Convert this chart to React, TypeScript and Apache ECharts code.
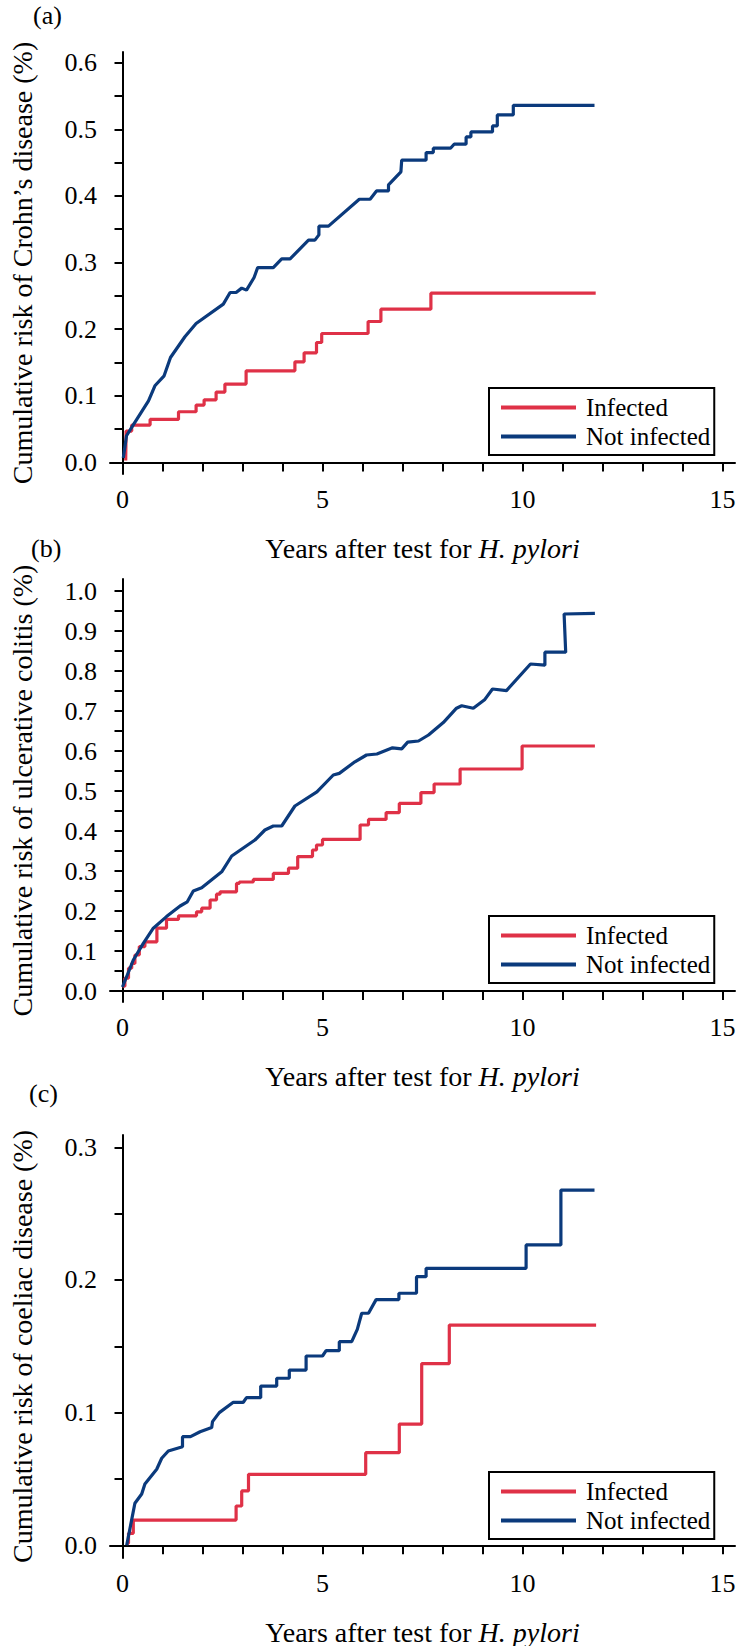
import React, { useEffect, useRef } from "react";
import * as echarts from "echarts";

// ---------- text ----------
const panelLabels = ["(a)", "(b)", "(c)"];
const yTitles = [
  "Cumulative risk of Crohn\u2019s disease (%)",
  "Cumulative risk of ulcerative colitis (%)",
  "Cumulative risk of coeliac disease (%)",
];
const xTitle = "Years after test for {i|H. pylori}";
const seriesNames = ["Infected", "Not infected"];

// ---------- ticks ----------
const xTicks = [0, 1, 2, 3, 4, 5, 6, 7, 8, 9, 10, 11, 12, 13, 14, 15];
const xTickLabels = [0, 5, 10, 15];
const yTicksA = [0, 0.05, 0.1, 0.15, 0.2, 0.25, 0.3, 0.35, 0.4, 0.45, 0.5, 0.55, 0.6];
const yLabelsA = [0, 0.1, 0.2, 0.3, 0.4, 0.5, 0.6];
const yTicksB = [0, 0.05, 0.1, 0.15, 0.2, 0.25, 0.3, 0.35, 0.4, 0.45, 0.5, 0.55, 0.6, 0.65, 0.7, 0.75, 0.8, 0.85, 0.9, 0.95, 1.0];
const yLabelsB = [0, 0.1, 0.2, 0.3, 0.4, 0.5, 0.6, 0.7, 0.8, 0.9, 1.0];
const yTicksC = [0, 0.05, 0.1, 0.15, 0.2, 0.25, 0.3];
const yLabelsC = [0, 0.1, 0.2, 0.3];

// ---------- data: [years, cumulative risk %] ----------
// (a) Crohn's disease
const crohnInfected = [
  [0.08, 0.003], [0.09, 0.047], [0.23, 0.056], [0.69, 0.0645], [1.40, 0.076], [1.84, 0.086],
  [2.04, 0.094], [2.34, 0.1056], [2.56, 0.1176], [3.09, 0.1375], [4.31, 0.151], [4.54, 0.1645],
  [4.85, 0.18], [4.98, 0.1935], [6.14, 0.2115], [6.46, 0.23], [7.71, 0.254], [11.83, 0.254],
];
const crohnNotInfected = [
  [0.02, 0.0066], [0.10, 0.040], [0.23, 0.0525], [0.65, 0.0925], [0.81, 0.115], [1.04, 0.130],
  [1.20, 0.1575], [1.56, 0.1886], [1.84, 0.2085], [2.52, 0.2376], [2.69, 0.255], [2.84, 0.255],
  [2.98, 0.2616], [3.10, 0.2586], [3.29, 0.2775], [3.38, 0.2925], [3.77, 0.2925], [3.98, 0.3055],
  [4.19, 0.3055], [4.65, 0.3336], [4.81, 0.3336], [4.91, 0.3415], [4.91, 0.3546], [5.15, 0.3546],
  [5.92, 0.395], [6.19, 0.395], [6.35, 0.4075], [6.65, 0.4075], [6.65, 0.4166], [6.96, 0.436],
  [6.98, 0.4536], [7.59, 0.4536], [7.59, 0.465], [7.77, 0.465], [7.77, 0.4716], [8.20, 0.4716],
  [8.29, 0.4776], [8.59, 0.4776], [8.59, 0.4885], [8.71, 0.4885], [8.71, 0.496], [9.25, 0.496],
  [9.25, 0.505], [9.37, 0.505], [9.37, 0.5215], [9.77, 0.5215], [9.77, 0.536], [11.80, 0.536],
];

// (b) ulcerative colitis
const ucInfected = [
  [0, 0.012], [0.06, 0.032], [0.15, 0.057], [0.23, 0.069], [0.31, 0.09], [0.42, 0.111],
  [0.56, 0.123], [0.86, 0.157], [1.10, 0.179], [1.40, 0.188], [1.85, 0.198], [1.98, 0.207],
  [2.19, 0.2275], [2.35, 0.242], [2.44, 0.248], [2.85, 0.269], [2.92, 0.2725], [3.27, 0.279],
  [3.77, 0.294], [4.15, 0.307], [4.38, 0.336], [4.75, 0.3525], [4.85, 0.365], [5.0, 0.379],
  [5.94, 0.415], [6.15, 0.429], [6.59, 0.446], [6.92, 0.469], [7.46, 0.496], [7.79, 0.5175],
  [8.44, 0.555], [9.99, 0.6125], [11.81, 0.6125],
];
const ucNotInfected = [
  [0, 0.01], [0.27, 0.0775], [0.52, 0.119], [0.77, 0.157], [1.10, 0.186], [1.44, 0.2125],
  [1.62, 0.223], [1.77, 0.25], [1.98, 0.258], [2.48, 0.298], [2.73, 0.3375], [3.31, 0.3775],
  [3.56, 0.4025], [3.77, 0.4125], [3.98, 0.4125], [4.31, 0.4625], [4.86, 0.498], [5.27, 0.54],
  [5.42, 0.544], [5.81, 0.573], [6.10, 0.59], [6.36, 0.5925], [6.75, 0.608], [6.98, 0.6055],
  [7.13, 0.622], [7.40, 0.625], [7.65, 0.64], [8.02, 0.671], [8.35, 0.707], [8.48, 0.713],
  [8.77, 0.707], [9.06, 0.729], [9.25, 0.755], [9.60, 0.751], [10.20, 0.8175], [10.56, 0.8145],
  [10.56, 0.847], [11.08, 0.847], [11.04, 0.9425], [11.81, 0.944],
];

// (c) coeliac disease
const coeliacInfected = [
  [0.10, 0.0015], [0.15, 0.009], [0.27, 0.019], [2.84, 0.0296], [2.98, 0.041], [3.15, 0.0535],
  [6.08, 0.0698], [6.92, 0.0914], [7.48, 0.137], [8.17, 0.166], [11.84, 0.166],
];
const coeliacNotInfected = [
  [0.105, 0.0], [0.31, 0.0317], [0.48, 0.0387], [0.56, 0.0462], [0.855, 0.0573], [0.98, 0.0656],
  [1.145, 0.0711], [1.50, 0.0743], [1.50, 0.0819], [1.70, 0.0819], [1.94, 0.0856], [2.23, 0.0887],
  [2.25, 0.0932], [2.42, 0.10], [2.77, 0.1078], [3.02, 0.1078], [3.10, 0.1113], [3.455, 0.1113],
  [3.455, 0.12], [3.855, 0.12], [3.855, 0.1259], [4.17, 0.1259], [4.17, 0.1321], [4.59, 0.1321],
  [4.59, 0.1427], [5.0, 0.1427], [5.09, 0.1467], [5.42, 0.1467], [5.42, 0.1535], [5.73, 0.1535],
  [5.87, 0.1628], [5.98, 0.1749], [6.15, 0.1749], [6.34, 0.1852], [6.91, 0.1852], [6.91, 0.19],
  [7.35, 0.19], [7.35, 0.2025], [7.59, 0.2025], [7.59, 0.2088], [10.09, 0.2088], [10.09, 0.2264],
  [10.96, 0.2264], [10.96, 0.2678], [11.80, 0.2678],
];

const infectedSets = [crohnInfected, ucInfected, coeliacInfected];
const notInfectedSets = [crohnNotInfected, ucNotInfected, coeliacNotInfected];
const yTickSets = [yTicksA, yTicksB, yTicksC];
const yLabelSets = [yLabelsA, yLabelsB, yLabelsC];

// ---------- layout / style ----------
const FONT = "Liberation Serif";
const RED = "#df3147";
const BLUE = "#0b3a7c";
const grids = [
  { top: 52, height: 422, yMin: -0.0174, yMax: 0.616 },
  { top: 579, height: 423, yMin: -0.0275, yMax: 1.03 },
  { top: 1135, height: 423, yMin: -0.0096, yMax: 0.3093 },
];
const legendTops = [388, 916, 1472];
const labelPos = [
  { left: 33, top: 2 },
  { left: 31, top: 535 },
  { left: 29, top: 1080 },
];

export default function App() {
  const ref = useRef<HTMLDivElement>(null);

  useEffect(() => {
    if (!ref.current) return;
    const chart = echarts.init(ref.current, undefined, { renderer: "svg" });

    const axisLine = { show: true, lineStyle: { color: "#000", width: 2 } };
    const numRich = { n: { fontSize: 26, fontFamily: FONT, color: "#000" } };

    const option: any = {
      animation: false,
      backgroundColor: "#fff",
      textStyle: { fontFamily: FONT, color: "#000" },
      grid: grids.map((g) => ({
        left: 110,
        width: 625,
        top: g.top,
        height: g.height,
        containLabel: false,
        outerBoundsMode: "none",
      })),
      xAxis: grids.map((g, i) => ({
        type: "value",
        gridIndex: i,
        min: -0.3125,
        max: 15.3125,
        axisLine,
        splitLine: { show: false },
        axisTick: {
          show: true,
          length: 9,
          inside: false,
          customValues: xTicks,
          lineStyle: { color: "#000", width: 2 },
        },
        axisLabel: {
          customValues: xTickLabels,
          margin: 12,
          fontSize: 26,
          fontFamily: FONT,
          color: "#000",
          rich: numRich,
          formatter: (v: number) => `{n|${Math.round(v)}}`,
        },
        name: xTitle,
        nameLocation: "middle",
        nameGap: 60,
        nameTextStyle: {
          fontSize: 28,
          fontFamily: FONT,
          color: "#000",
          rich: { i: { fontStyle: "italic", fontSize: 28, fontFamily: FONT, color: "#000" } },
        },
      })),
      yAxis: grids.map((g, i) => ({
        type: "value",
        gridIndex: i,
        min: g.yMin,
        max: g.yMax,
        axisLine,
        splitLine: { show: false },
        axisTick: {
          show: true,
          length: 8,
          inside: false,
          customValues: yTickSets[i],
          lineStyle: { color: "#000", width: 2 },
        },
        axisLabel: {
          customValues: yLabelSets[i],
          margin: 13,
          fontSize: 26,
          fontFamily: FONT,
          color: "#000",
          rich: numRich,
          formatter: (v: number) => `{n|${v.toFixed(1)}}`,
        },
        name: yTitles[i],
        nameLocation: "middle",
        nameGap: 74,
        nameTextStyle: { fontSize: 28, fontFamily: FONT, color: "#000" },
      })),
      legend: legendTops.map((t) => ({
        orient: "vertical",
        left: 489,
        top: t,
        data: seriesNames,
        selectedMode: false,
        borderColor: "#000",
        borderWidth: 2,
        padding: [7, 4, 6, 12],
        itemGap: 4,
        itemWidth: 75,
        itemHeight: 4,
        icon: "rect",
        textStyle: { fontSize: 25, fontFamily: FONT, color: "#000", padding: [0, 0, 0, 5] },
      })),
      graphic: panelLabels.map((p, i) => ({
        type: "text",
        left: labelPos[i].left,
        top: labelPos[i].top,
        style: { text: p, font: `26px "${FONT}"`, fill: "#000" },
      })),
      series: [
        ...infectedSets.map((d, i) => ({
          name: seriesNames[0],
          type: "line",
          xAxisIndex: i,
          yAxisIndex: i,
          data: d,
          step: "end",
          symbol: "none",
          showSymbol: false,
          lineStyle: { color: RED, width: 3.2 },
          itemStyle: { color: RED },
          z: 2,
        })),
        ...notInfectedSets.map((d, i) => ({
          name: seriesNames[1],
          type: "line",
          xAxisIndex: i,
          yAxisIndex: i,
          data: d,
          symbol: "none",
          showSymbol: false,
          lineStyle: { color: BLUE, width: 3.2 },
          itemStyle: { color: BLUE },
          z: 3,
        })),
      ],
    };

    chart.setOption(option);
    return () => chart.dispose();
  }, []);

  return (
    <div
      ref={ref}
      style={{ position: "absolute", left: 0, top: 0, width: 740, height: 1646, background: "#fff" }}
    />
  );
}
